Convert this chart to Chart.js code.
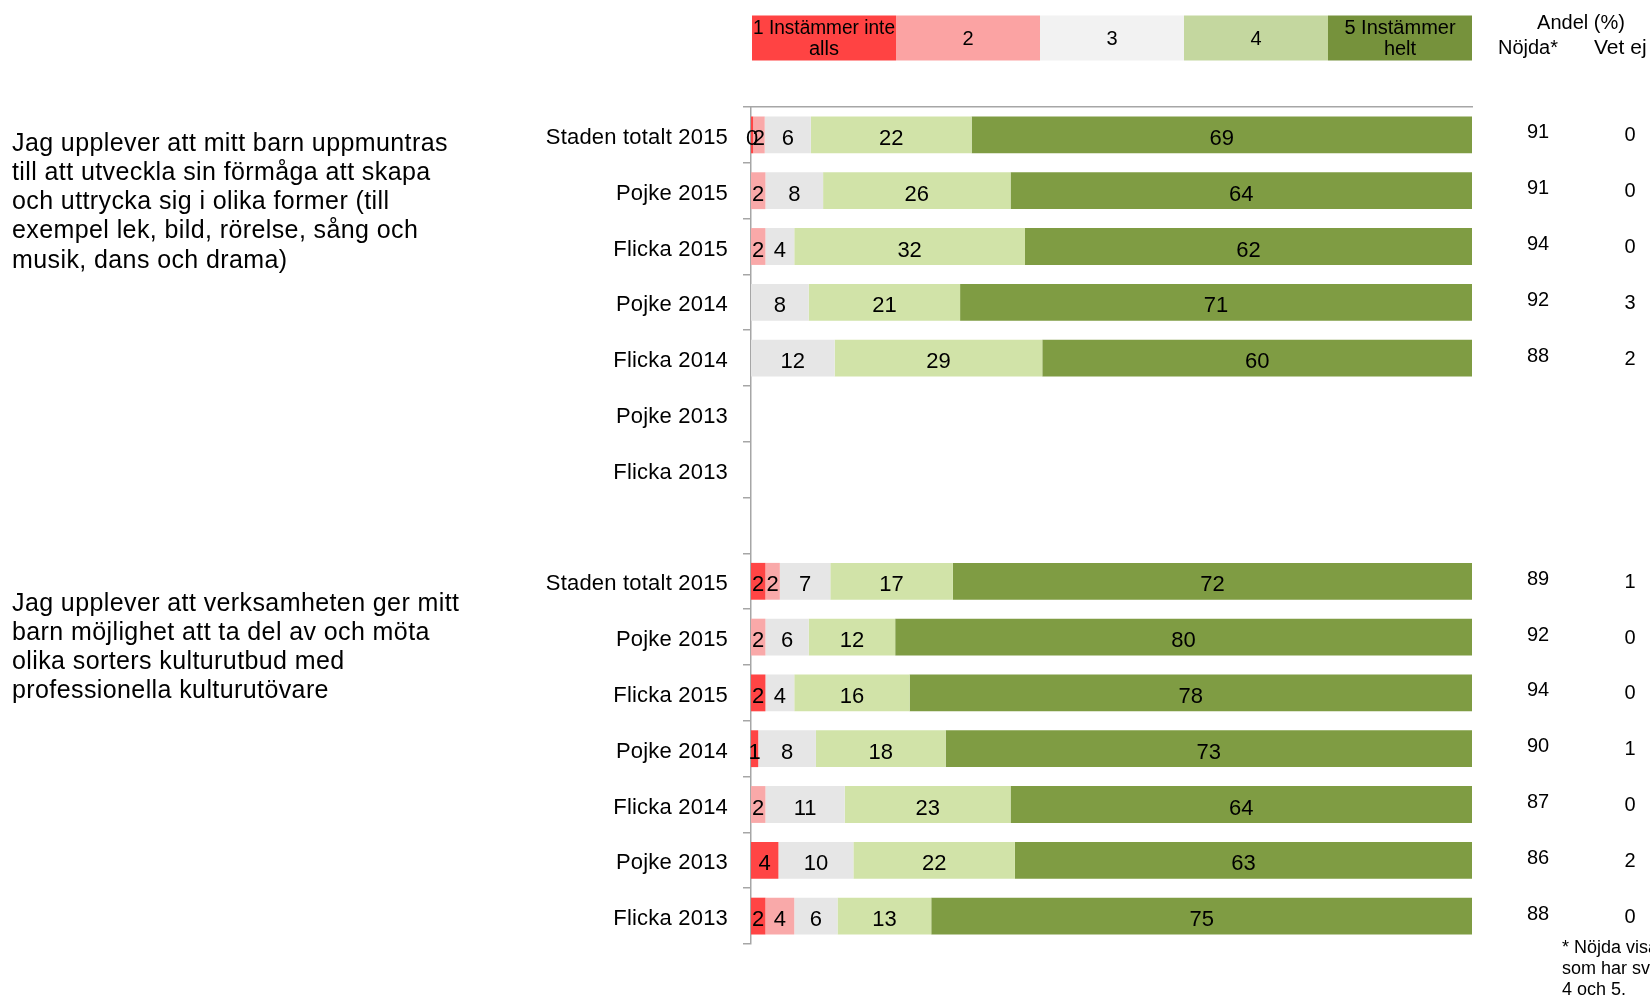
<!DOCTYPE html>
<html>
<head>
<meta charset="utf-8">
<script src="https://cdn.jsdelivr.net/npm/chart.js@4.4.1/dist/chart.umd.min.js"></script>
<style>
  body { margin: 0; background: #fff; }
  canvas { display: block; }
</style>
</head>
<body>
<canvas id="chart" width="1650" height="1001"></canvas>
<script>
// rows of each question block
const rowLabels = ['Staden totalt 2015', 'Pojke 2015', 'Flicka 2015', 'Pojke 2014', 'Flicka 2014', 'Pojke 2013', 'Flicka 2013']
const scaleLabels = [['1 Instämmer inte', 'alls'], ['2'], ['3'], ['4'], ['5 Instämmer', 'helt']]

const question1 = ['Jag upplever att mitt barn uppmuntras', 'till att utveckla sin förmåga att skapa', 'och uttrycka sig i olika former (till', 'exempel lek, bild, rörelse, sång och', 'musik, dans och drama)']
const question2 = ['Jag upplever att verksamheten ger mitt', 'barn möjlighet att ta del av och möta', 'olika sorters kulturutbud med', 'professionella kulturutövare']

// share (%) per answer, question 1 (no data for 2013)
const q1Answer1 = [0.3, 0, 0, 0, 0, null, null]
const q1Answer2 = [1.6, 2, 2, 0, 0, null, null]
const q1Answer3 = [6.4, 8, 4, 8, 11.6, null, null]
const q1Answer4 = [22.3, 26, 32, 21, 28.8, null, null]
const q1Answer5 = [69.4, 64, 62, 71, 59.6, null, null]
const q1Nojda = [91, 91, 94, 92, 88, null, null]
const q1VetEj = [0, 0, 0, 3, 2, null, null]

// share (%) per answer, question 2
const q2Answer1 = [2, 0, 2, 1, 0, 3.8, 2]
const q2Answer2 = [2, 2, 0, 0, 2, 0, 4]
const q2Answer3 = [7, 6, 4, 8, 11, 10.4, 6]
const q2Answer4 = [17, 12, 16, 18, 23, 22.4, 13]
const q2Answer5 = [72, 80, 78, 73, 64, 63.4, 75]
const q2Nojda = [89, 92, 94, 90, 87, 86, 88]
const q2VetEj = [1, 0, 0, 1, 0, 2, 0]

const barColors = ['#ff4545', '#f9a9a9', '#e6e6e6', '#d1e3a8', '#7f9c43']
const legendColors = ['#ff4343', '#fba3a3', '#f2f2f2', '#c4d79f', '#76923c']
const FONT = '"Liberation Sans", Arial, sans-serif'

const join = (a, b) => [...a, null, ...b]
const labels = join(rowLabels, rowLabels).map(l => l || '')
const answers = [
    join(q1Answer1, q2Answer1),
    join(q1Answer2, q2Answer2),
    join(q1Answer3, q2Answer3),
    join(q1Answer4, q2Answer4),
    join(q1Answer5, q2Answer5)
]
const nojda = join(q1Nojda, q2Nojda)
const vetEj = join(q1VetEj, q2VetEj)

const spacing = {
    id: 'spacing',
    beforeDraw(chart) {
        chart.ctx.letterSpacing = '0.2px'
    }
}

const segmentLabels = {
    id: 'segmentLabels',
    afterDatasetsDraw(chart) {
        const ctx = chart.ctx
        ctx.save()
        ctx.letterSpacing = '0px'
        ctx.font = '22px ' + FONT
        ctx.fillStyle = '#000'
        ctx.textAlign = 'center'
        ctx.textBaseline = 'middle'
        chart.data.datasets.forEach((ds, i) => {
            chart.getDatasetMeta(i).data.forEach((bar, j) => {
                const v = ds.data[j]
                if (!v) return
                const { x, base, y } = bar.getProps(['x', 'base', 'y'], true)
                ctx.fillText(Math.round(v), (x + base) / 2, y + 4)
            })
        })
        ctx.restore()
    }
}

const decorations = {
    id: 'decorations',
    afterDraw(chart) {
        const { ctx, chartArea, scales } = chart
        ctx.save()
        ctx.letterSpacing = '0px'
        // answer scale across the top
        const left = chartArea.left + 1
        const w = (chartArea.right - left) / 5
        ctx.textAlign = 'center'
        ctx.textBaseline = 'middle'
        ctx.font = '20px ' + FONT
        scaleLabels.forEach((lines, i) => {
            ctx.fillStyle = legendColors[i]
            ctx.fillRect(left + i * w, 15.5, w, 45)
            ctx.fillStyle = '#000'
            const cx = left + i * w + w / 2
            if (lines.length === 1) {
                ctx.fillText(lines[0], cx, 39)
            } else {
                ctx.fillText(lines[0], cx, 28, w - 2)
                ctx.fillText(lines[1], cx, 49, w - 2)
            }
        })
        // right hand columns
        ctx.font = '20px ' + FONT
        ctx.textBaseline = 'alphabetic'
        ctx.fillText('Andel (%)', 1581, 29)
        ctx.fillText('Nöjda*', 1528, 54)
        ctx.textAlign = 'left'
        ctx.font = '21px ' + FONT
        ctx.fillText('Vet ej', 1594, 54)
        ctx.font = '20px ' + FONT
        ctx.textAlign = 'center'
        ctx.textBaseline = 'middle'
        nojda.forEach((v, i) => {
            if (v == null) return
            const py = scales.y.getPixelForValue(i)
            ctx.fillText(v, 1538, py - 2)
            ctx.fillText(vetEj[i], 1630, py + 1)
        })
        ctx.font = '18px ' + FONT
        ctx.textAlign = 'left'
        ctx.fillText('* Nöjda visar andel', 1562, 948)
        ctx.fillText('som har svarat', 1562, 969)
        ctx.fillText('4 och 5.', 1562, 990)
        // question texts
        ctx.letterSpacing = '0.4px'
        ctx.font = '25px ' + FONT
        question1.forEach((line, i) => ctx.fillText(line, 12, 144 + i * 29.2))
        question2.forEach((line, i) => ctx.fillText(line, 12, 604 + i * 29))
        ctx.restore()
    }
}

new Chart(document.getElementById('chart'), {
    type: 'bar',
    data: {
        labels: labels,
        datasets: answers.map((data, i) => ({
            label: String(i + 1),
            data: data,
            backgroundColor: barColors[i],
            borderWidth: 0,
            barPercentage: 0.66,
            categoryPercentage: 1
        }))
    },
    options: {
        indexAxis: 'y',
        responsive: false,
        animation: false,
        layout: { padding: { top: 107, right: 178, bottom: 57, left: 0 } },
        scales: {
            x: {
                stacked: true,
                min: 0,
                max: 100,
                position: 'top',
                grid: { display: false },
                ticks: { display: false },
                border: { display: true, color: '#a6a6a6', width: 1.5 },
                afterFit: (scale) => { scale.height = 0 }
            },
            y: {
                stacked: true,
                offset: true,
                grid: { display: true, drawOnChartArea: false, offset: true, tickLength: 8, color: '#a6a6a6', lineWidth: 1.5 },
                border: { display: true, color: '#a6a6a6', width: 1.5 },
                ticks: { color: '#000', font: { size: 22, family: FONT }, padding: 15, labelOffset: 3, autoSkip: false },
                afterFit: (scale) => { scale.width = 751 }
            }
        },
        plugins: {
            legend: { display: false },
            tooltip: { enabled: false }
        }
    },
    plugins: [spacing, segmentLabels, decorations]
})
</script>
</body>
</html>
